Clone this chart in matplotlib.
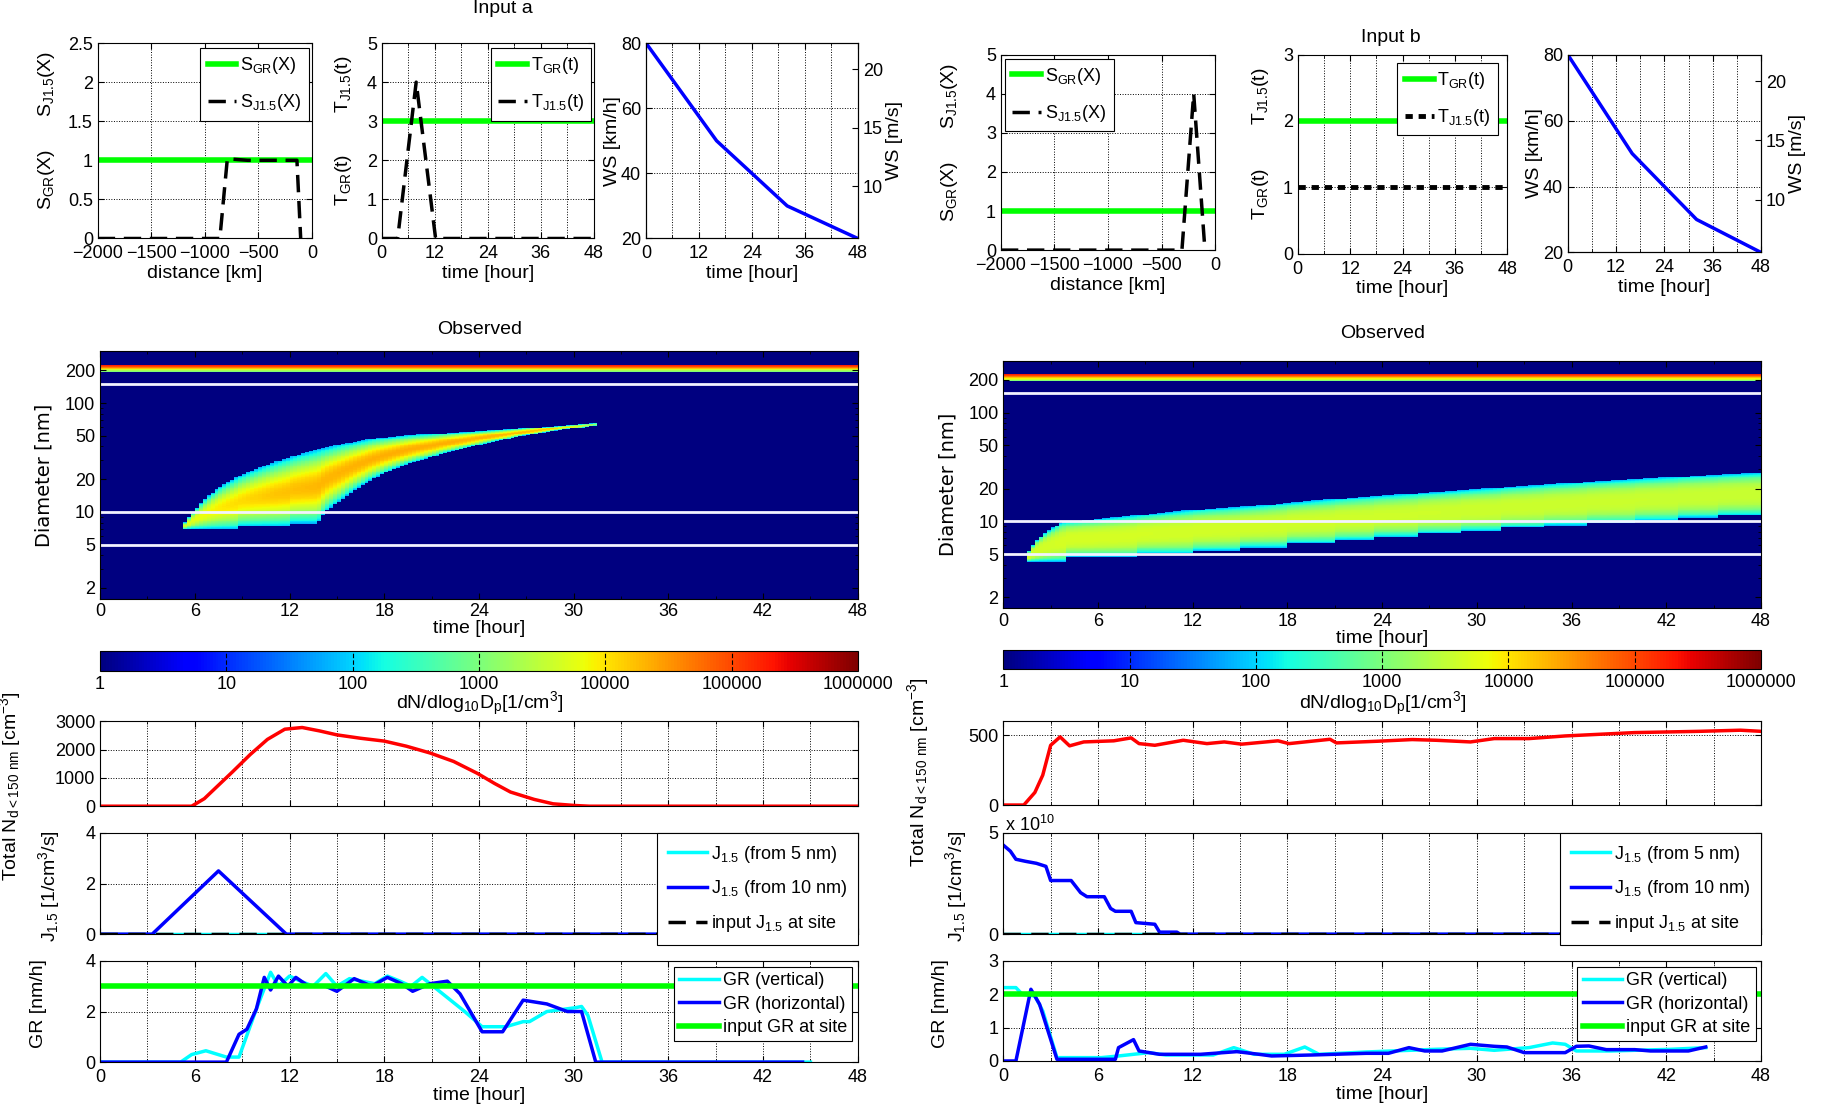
import numpy as np
import matplotlib
matplotlib.use("Agg")
import matplotlib.pyplot as plt
from matplotlib.colors import LogNorm
from matplotlib.ticker import MultipleLocator, FixedLocator, NullFormatter

plt.rcParams["font.family"] = ["Liberation Sans", "DejaVu Sans"]
plt.rcParams["mathtext.default"] = "regular"
plt.rcParams["font.size"] = 13
plt.rcParams["axes.linewidth"] = 0.8

# ---------------- values ----------------
# input a: shape functions
dist_a = [-2000, -860, -790, -600, -140, -105]
sj_a = [0, 0, 1.02, 1.0, 1.0, 0]
sgr_a = 1.0
tj_time_a = [0, 3.6, 7.8, 12.2, 48]
tj_a = [0, 0, 4, 0, 0]
tgr_a = 3.0

# input b: shape functions
dist_b = [-2000, -310, -200, -95]
sj_b = [0, 0, 4, 0]
sgr_b = 1.0
tgr_b = 2.0
tj_b = 1.0

# wind speed (same for both)
ws_time = [0, 16, 32, 48]
ws_kmh = [80, 50, 30, 20]

# observed size distribution: edges of the growing mode (time h, diameter nm)
a_hi_t = [5.3, 6.1, 7.2, 8.8, 10.6, 12.9, 15.2, 17.4, 19.7, 21.9, 24.2, 26.5, 28.7, 30.5, 31.4]
a_hi_d = [7.7, 10.9, 15.5, 21.3, 27.2, 34.8, 41.9, 47.4, 51, 53, 55.6, 58, 61, 63.9, 65]
a_lo_t = [5.3, 8.7, 8.7, 12.0, 12.0, 13.8, 14.25, 15.2, 16.5, 18.1, 19.7, 21.9, 24.2, 26.5, 28.7, 30.5, 31.4]
a_lo_d = [6.95, 6.95, 7.35, 7.35, 7.83, 7.83, 9.9, 12.6, 17.3, 22.9, 28.2, 34.8, 41.9, 49.2, 55.6, 59.6, 62]
a_pk_t = [5.3, 8, 11, 14, 18, 22, 26, 29, 31.4]
a_pk_lvl = [3.7, 4.0, 4.2, 4.3, 4.35, 4.35, 4.3, 4.15, 3.2]

b_hi_t = [1.5, 2.1, 2.8, 3.7, 6.5, 9.4, 12.2, 16.0, 19.0, 21.6, 26.2, 30.9, 35.5, 40.2, 44.8, 48]
b_hi_d = [5.0, 6.7, 8.15, 9.8, 10.7, 11.7, 12.8, 13.9, 15.2, 16.3, 18.1, 20.1, 22.4, 24.5, 26.6, 27.9]
b_lo_t = [1.5, 4.1, 8.4, 12.1, 15.0, 18.1, 20.9, 23.4, 26.2, 28.9, 31.5, 34.3, 37.1, 39.9, 42.7, 45.2]
b_lo_d = [4.26, 4.73, 5.07, 5.36, 5.75, 6.26, 6.70, 7.19, 7.71, 8.15, 8.74, 9.18, 9.64, 10.2, 10.8, 11.3]
b_pk_t = [1.5, 4, 20, 48]
b_pk_lvl = [3.6, 3.65, 3.6, 3.55]

edge_lvl = 1.8
stripe_d = [195, 203, 210, 216, 223]
stripe_lvl = [3.0, 3.6, 4.2, 4.9, 5.3]
marker_d = [5, 10, 150]

# total number concentration
totn_a_t = [0, 5.8, 6.6, 8.4, 9.5, 10.6, 11.7, 12.8, 13.9, 15, 16.5, 18, 19.4, 20.9, 22.4,
            23.9, 25, 26, 27.5, 28.7, 30.1, 31, 48]
totn_a = [0, 0, 265, 1220, 1820, 2360, 2720, 2780, 2660, 2520, 2400, 2300, 2120, 1880, 1580,
          1160, 800, 500, 240, 84, 24, 0, 0]
totn_b_t = [0, 1.3, 2.0, 2.5, 3.0, 3.6, 4.2, 5.1, 7.0, 8.1, 8.6, 9.6, 11.4, 12.9, 14.0, 15.1,
            17.4, 18.1, 20.7, 21.1, 23.7, 25.9, 27.4, 29.6, 31.1, 33.3, 35.6, 37.8, 40.0,
            42.3, 44.1, 46.7, 48]
totn_b = [0, 0, 90, 214, 428, 488, 424, 452, 460, 481, 440, 428, 464, 440, 452, 436, 460, 440,
          471, 445, 457, 469, 464, 452, 476, 476, 495, 507, 519, 524, 528, 536, 528]

# formation rate J1.5
j10_a_t = [0, 3.3, 7.5, 11.8, 48]
j10_a = [0, 0, 2.5, 0, 0]
j5_a_t = [0, 48]
j5_a = [0, 0]
jin_a = 0.0
j10_b_t = [0, 0.45, 0.8, 1.4, 2.1, 2.7, 3.0, 4.3, 4.9, 5.3, 6.4, 6.8, 7.1, 8.1, 8.4, 9.6,
           9.9, 11.0, 11.2, 48]
j10_b_e10 = [4.4, 4.1, 3.7, 3.6, 3.5, 3.35, 2.65, 2.65, 2.05, 1.85, 1.85, 1.27, 1.13, 1.13,
             0.57, 0.49, 0.1, 0.1, 0, 0]
j5_b_t = [0, 48]
j5_b_e10 = [0, 0]
jin_b = 0.0

# growth rate
grv_a_t = [0, 5.1, 5.8, 6.7, 8.0, 8.8, 9.9, 10.8, 11.3, 12.0, 12.7, 13.5, 14.3, 15.0, 15.8,
           16.6, 17.4, 18.2, 19.0, 19.7, 20.4, 21.7, 23.1, 24.2, 25.7, 26.8, 27.2, 28.3,
           30.1, 30.5, 30.9, 31.8, 45]
grv_a = [0, 0, 0.3, 0.45, 0.2, 0.2, 2.1, 3.55, 3.0, 3.4, 3.2, 3.0, 3.5, 3.0, 3.3, 3.2, 3.1,
         3.4, 3.2, 3.0, 3.35, 2.7, 2.0, 1.4, 1.4, 1.6, 1.6, 2.0, 2.15, 2.2, 1.85, 0, 0]
grh_a_t = [0, 8.0, 8.8, 9.3, 9.9, 10.4, 10.8, 11.3, 11.9, 12.4, 13.2, 14.3, 15.0, 16.1, 17.2,
           18.2, 19.1, 19.8, 20.9, 22.0, 22.8, 24.2, 25.5, 26.8, 28.3, 29.6, 30.5, 31.4, 44.5]
grh_a = [0, 0, 1.1, 1.3, 2.1, 3.35, 2.85, 3.4, 3.0, 3.35, 3.0, 3.0, 2.8, 3.3, 3.0, 3.35, 3.1,
         2.8, 3.1, 3.2, 2.7, 1.2, 1.2, 2.45, 2.3, 2.0, 2.0, 0, 0]
grin_a = 3.0
grv_b_t = [0.1, 0.8, 1.2, 2.0, 2.5, 3.4, 6.2, 7.3, 9.2, 10.3, 13.3, 14.6, 15.9, 17.8, 19.1,
           20.0, 23.0, 27.4, 29.6, 31.1, 33.3, 34.8, 35.6, 36.3, 38.5, 42.3, 44.5]
grv_b = [2.2, 2.2, 2.0, 1.95, 1.5, 0.1, 0.1, 0.15, 0.25, 0.18, 0.18, 0.4, 0.2, 0.2, 0.42,
         0.2, 0.27, 0.35, 0.38, 0.32, 0.4, 0.54, 0.5, 0.3, 0.3, 0.35, 0.4]
grh_b_t = [0, 0.8, 1.75, 2.3, 3.4, 7.1, 7.3, 8.25, 8.6, 9.9, 12.5, 14.8, 16.2, 17.0, 19.6,
           23.0, 24.4, 25.7, 26.7, 27.8, 29.6, 31.1, 31.9, 33.0, 35.6, 36.3, 37.1, 38.2,
           40.0, 41.0, 43.4, 44.5]
grh_b = [0, 0, 2.15, 1.7, 0.05, 0.05, 0.4, 0.64, 0.3, 0.2, 0.2, 0.28, 0.2, 0.15, 0.18, 0.23,
         0.23, 0.4, 0.3, 0.3, 0.5, 0.44, 0.42, 0.25, 0.25, 0.44, 0.45, 0.34, 0.34, 0.3, 0.3, 0.42]
grin_b = 2.0

cbar_ticks = [1, 10, 100, 1000, 10000, 100000, 1000000]

# ---------------- helpers ----------------
W, H = 1568.0, 955.0   # layout measured on the reference
FS = 13
GREEN, BLUE, CYAN, RED = "#00ff00", "#0000ff", "#00ffff", "#ff0000"
GRID = dict(ls=":", color="k", lw=0.7)

fig = plt.figure(figsize=(18.25, 11.11), dpi=100)


def add_ax(x0, y0, x1, y1):
    return fig.add_axes([x0 / W, 1 - y1 / H, (x1 - x0) / W, (y1 - y0) / H])


def ftext(x, y, s, **kw):
    kw.setdefault("ha", "center")
    kw.setdefault("va", "center")
    kw.setdefault("fontsize", FS + 1)
    fig.text(x / W, 1 - y / H, s, **kw)


def style(ax, right=True):
    ax.tick_params(which="both", direction="in", top=True, right=right, labelsize=FS)
    ax.tick_params(which="major", length=4)
    ax.tick_params(which="minor", length=2)
    ax.tick_params(axis="x", pad=5)


def legend(ax, **kw):
    kw.setdefault("handlelength", 1.6)
    leg = ax.legend(fontsize=FS, frameon=True, fancybox=False, framealpha=1,
                    edgecolor="k", handletextpad=0.2, borderaxespad=0, **kw)
    leg.get_frame().set_linewidth(0.8)
    return leg


def time_axis(ax, major, minor):
    ax.set_xlim(0, 48)
    ax.xaxis.set_major_locator(MultipleLocator(major))
    ax.xaxis.set_minor_locator(MultipleLocator(minor))
    ax.grid(True, which="both", axis="x", **GRID)
    ax.grid(True, which="major", axis="y", **GRID)


def field(hi_t, hi_d, lo_t, lo_d, pk_t, pk_lvl, step_lo, t_edges, d_edges, expo):
    tc = 0.5 * (t_edges[:-1] + t_edges[1:])
    dc = np.sqrt(d_edges[:-1] * d_edges[1:])
    lvl = np.zeros((dc.size, tc.size))
    band = (dc >= stripe_d[0]) & (dc <= stripe_d[-1])
    lvl[band, :] = np.interp(dc[band], stripe_d, stripe_lvl)[:, None]
    for j, t in enumerate(tc):
        if t < hi_t[0] or t > hi_t[-1]:
            continue
        top = np.log10(np.interp(t, hi_t, hi_d))
        if step_lo:
            bot = np.log10(lo_d[np.searchsorted(lo_t, t, side="right") - 1])
        else:
            bot = np.log10(np.interp(t, lo_t, lo_d))
        mid, half = 0.5 * (top + bot), max(0.5 * (top - bot), 1e-3)
        z = (np.log10(dc) - mid) / half
        inside = np.abs(z) <= 1
        pk = np.interp(t, pk_t, pk_lvl)
        lvl[inside, j] = edge_lvl + (pk - edge_lvl) * (1 - np.abs(z[inside]) ** expo)
    return 10 ** lvl


t_edges = np.arange(0, 48.001, 0.25)
d_edges = np.logspace(np.log10(1.5), np.log10(320), 301)
norm = LogNorm(1, 1e6)
cmap = plt.get_cmap("jet")

# ---------------- one half of the figure ----------------
def draw_half(dx, dy, side):
    a = side == "a"
    # --- inputs row ---
    ax1 = add_ax(84 + dx, 37 + dy, 268 + dx, 205 + dy)
    ax1.axhline(sgr_a if a else sgr_b, color=GREEN, lw=4, label=r"S$_{GR}$(X)")
    ax1.plot(dist_a if a else dist_b, sj_a if a else sj_b, color="k", lw=2.5,
             ls=(0, (5, 2.5)), label=r"S$_{J1.5}$(X)")
    ax1.set_xlim(-2000, 0)
    ax1.set_ylim(0, 2.5 if a else 5)
    ax1.set_xticks([-2000, -1500, -1000, -500, 0])
    ax1.set_xticklabels(["\u22122000", "\u22121500", "\u22121000", "\u2212500", "0"])
    ax1.set_yticks([0, 0.5, 1, 1.5, 2, 2.5] if a else [0, 1, 2, 3, 4, 5])
    ax1.set_yticklabels(["0", "0.5", "1", "1.5", "2", "2.5"] if a else ["0", "1", "2", "3", "4", "5"])
    ax1.grid(True, **GRID)
    style(ax1)
    ax1.set_xlabel("distance [km]", fontsize=FS + 1, labelpad=2)
    if a:
        legend(ax1, loc="upper right", bbox_to_anchor=(0.985, 0.975), labelspacing=0.9)
    else:
        legend(ax1, loc="upper left", bbox_to_anchor=(0.02, 0.98), labelspacing=0.9)
    ax1.text(-0.24, 0.79, r"S$_{J1.5}$(X)", transform=ax1.transAxes, rotation=90,
             ha="center", va="center", fontsize=FS + 1)
    ax1.text(-0.24, 0.30, r"S$_{GR}$(X)", transform=ax1.transAxes, rotation=90,
             ha="center", va="center", fontsize=FS + 1)

    x0, x1 = (328, 510) if a else (1115 - 776, 1295 - 776)
    ax2 = add_ax(x0 + dx, 37 + dy, x1 + dx, (205 if a else 208) + dy)
    ax2.axhline(tgr_a if a else tgr_b, color=GREEN, lw=4, label=r"T$_{GR}$(t)")
    if a:
        ax2.plot(tj_time_a, tj_a, color="k", lw=2.5, ls=(0, (5, 2.5)), label=r"T$_{J1.5}$(t)")
    else:
        ax2.axhline(tj_b, color="k", lw=3.5, ls=(0, (1.5, 1.2)), label=r"T$_{J1.5}$(t)")
    ax2.set_xlim(0, 48)
    ax2.set_ylim(0, 5 if a else 3)
    ax2.set_xticks([0, 12, 24, 36, 48])
    ax2.xaxis.set_minor_locator(MultipleLocator(6))
    ax2.yaxis.set_major_locator(MultipleLocator(1))
    ax2.grid(True, which="both", axis="x", **GRID)
    ax2.grid(True, which="major", axis="y", **GRID)
    style(ax2)
    ax2.set_xlabel("time [hour]", fontsize=FS + 1, labelpad=2)
    if a:
        legend(ax2, loc="upper right", bbox_to_anchor=(0.99, 0.975), labelspacing=0.9)
    else:
        legend(ax2, loc="upper right", bbox_to_anchor=(0.955, 0.96), labelspacing=0.9)
    ax2.text(-0.18, 0.79, r"T$_{J1.5}$(t)", transform=ax2.transAxes, rotation=90,
             ha="center", va="center", fontsize=FS + 1)
    ax2.text(-0.18, 0.30, r"T$_{GR}$(t)", transform=ax2.transAxes, rotation=90,
             ha="center", va="center", fontsize=FS + 1)

    x0, x1 = (555, 737) if a else (1347 - 776, 1513 - 776)
    ax3 = add_ax(x0 + dx, 37 + dy, x1 + dx, (205 if a else 207) + dy)
    ax3.plot(ws_time, ws_kmh, color=BLUE, lw=2.5)
    ax3.set_xlim(0, 48)
    ax3.set_ylim(20, 80)
    ax3.set_xticks([0, 12, 24, 36, 48])
    ax3.xaxis.set_minor_locator(MultipleLocator(6))
    ax3.yaxis.set_major_locator(MultipleLocator(20))
    ax3.grid(True, which="both", axis="x", **GRID)
    ax3.grid(True, which="major", axis="y", **GRID)
    style(ax3, right=False)
    ax3.set_xlabel("time [hour]", fontsize=FS + 1, labelpad=2)
    ax3.set_ylabel("WS [km/h]", fontsize=FS + 1, labelpad=0)
    ax3r = ax3.twinx()
    ax3r.set_ylim(20 / 3.6, 80 / 3.6)
    ax3r.set_yticks([10, 15, 20])
    ax3r.tick_params(direction="in", labelsize=FS, length=4)
    ax3r.set_ylabel("WS [m/s]", fontsize=FS + 1, labelpad=2)

    ftext((432 if a else 1195 - 776) + dx, 7 + (0 if a else 15) + dy, "Input " + side)

    # --- observed size distribution ---
    hy = 0 if a else 8
    axh = add_ax(86 + dx, 302 + hy, 737 + dx, 515 + hy)
    if a:
        z = field(a_hi_t, a_hi_d, a_lo_t, a_lo_d, a_pk_t, a_pk_lvl, False, t_edges, d_edges, 2)
    else:
        z = field(b_hi_t, b_hi_d, np.array(b_lo_t), np.array(b_lo_d), b_pk_t, b_pk_lvl, True,
                  t_edges, d_edges, 3)
    axh.pcolormesh(t_edges, d_edges, z, cmap=cmap, norm=norm, shading="flat")
    for d in marker_d:
        axh.axhline(d, color="#f2f2ff", lw=2)
    axh.set_yscale("log")
    axh.set_ylim(1.58, 300)
    axh.yaxis.set_major_locator(FixedLocator([2, 5, 10, 20, 50, 100, 200]))
    axh.yaxis.set_major_formatter(plt.FixedFormatter(["2", "5", "10", "20", "50", "100", "200"]))
    axh.yaxis.set_minor_formatter(NullFormatter())
    axh.set_xlim(0, 48)
    axh.xaxis.set_major_locator(MultipleLocator(6))
    axh.xaxis.set_minor_locator(MultipleLocator(3))
    style(axh)
    axh.tick_params(axis="x", pad=3)
    axh.set_xlabel("time [hour]", fontsize=FS + 1, labelpad=0)
    axh.set_ylabel("Diameter [nm]", fontsize=FS + 1, labelpad=8, family="DejaVu Sans")
    ftext(412 + dx, 283 + (0 if a else 4), "Observed")

    cy = (560, 577) if a else (559, 575)
    cax = add_ax(86 + dx, cy[0], 737 + dx, cy[1])
    sm = plt.cm.ScalarMappable(norm=norm, cmap=cmap)
    cb = fig.colorbar(sm, cax=cax, orientation="horizontal")
    cb.set_ticks(cbar_ticks)
    cb.set_ticklabels([str(v) for v in cbar_ticks])
    cb.outline.set_linewidth(0.8)
    cax.tick_params(which="both", length=0, labelsize=FS)
    cax.minorticks_off()
    cax.vlines(cbar_ticks[1:-1], 0, 1, transform=cax.get_xaxis_transform(),
               colors="k", lw=0.8, linestyles=(0, (4, 2)))
    ftext(412 + dx, 605, r"dN/dlog$_{10}$D$_p$[1/cm$^3$]")

    # --- time series ---
    axn = add_ax(86 + dx, 620, 737 + dx, 693 if a else 692)
    axn.plot(totn_a_t if a else totn_b_t, totn_a if a else totn_b, color=RED, lw=2.5)
    time_axis(axn, 6, 3)
    if a:
        axn.set_ylim(0, 3000)
        axn.yaxis.set_major_locator(MultipleLocator(1000))
    else:
        axn.set_ylim(0, 600)
        axn.set_yticks([0, 500])
    axn.xaxis.set_major_formatter(NullFormatter())
    style(axn)

    axj = add_ax(86 + dx, 716, 737 + dx, 803)
    axj.plot(j5_a_t if a else j5_b_t, j5_a if a else j5_b_e10, color=CYAN, lw=2.5,
             label=r"J$_{1.5}$ (from 5 nm)")
    axj.plot(j10_a_t if a else j10_b_t, j10_a if a else j10_b_e10, color=BLUE, lw=2.5,
             label=r"J$_{1.5}$ (from 10 nm)")
    axj.axhline(jin_a if a else jin_b, color="k", lw=2.5, ls=(0, (5, 3)),
                label=r"input J$_{1.5}$ at site")
    time_axis(axj, 6, 3)
    axj.set_ylim(0, 4 if a else 5)
    axj.set_yticks([0, 2, 4] if a else [0, 5])
    axj.xaxis.set_major_formatter(NullFormatter())
    style(axj)
    legend(axj, loc="upper right", bbox_to_anchor=(1.0, 1.0), labelspacing=0.75,
           borderpad=0.6, handlelength=2.2)
    if not a:
        ftext(885, 709, r"x 10$^{10}$", fontsize=FS)

    axg = add_ax(86 + dx, 826, 737 + dx, 913 if a else 912)
    axg.plot(grv_a_t if a else grv_b_t, grv_a if a else grv_b, color=CYAN, lw=2.5,
             label="GR (vertical)")
    axg.plot(grh_a_t if a else grh_b_t, grh_a if a else grh_b, color=BLUE, lw=2.5,
             label="GR (horizontal)")
    axg.axhline(grin_a if a else grin_b, color=GREEN, lw=4, label="input GR at site")
    time_axis(axg, 6, 3)
    axg.set_ylim(0, 4 if a else 3)
    axg.set_yticks([0, 2, 4] if a else [0, 1, 2, 3])
    style(axg)
    axg.set_xlabel("time [hour]", fontsize=FS + 1, labelpad=1)
    legend(axg, loc="upper right", bbox_to_anchor=(0.993, 0.94), labelspacing=0.35,
           borderpad=0.3, handlelength=2.2)

    ftext(9 if a else 789, 676 if a else 664, r"Total N$_{d<150\ nm}$ [cm$^{-3}$]",
          rotation=90, fontsize=FS + 1)
    ftext(42 if a else 821, 762, r"J$_{1.5}$ [1/cm$^3$/s]", rotation=90, fontsize=FS + 1)
    ftext(33 if a else 808, 863, "GR [nm/h]", rotation=90, fontsize=FS + 1)


draw_half(0, 0, "a")
draw_half(776, 10, "b")

fig.savefig("out.png", dpi=100)
